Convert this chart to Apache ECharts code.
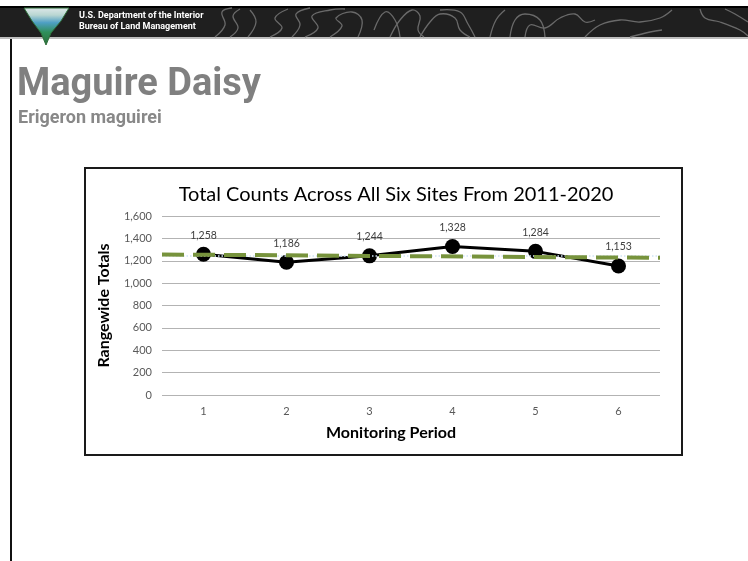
<!DOCTYPE html>
<html><head><meta charset="utf-8">
<script src="https://cdn.jsdelivr.net/npm/echarts@6/dist/echarts.min.js"></script>
<style>html,body{margin:0;padding:0;background:#fff}#c{width:748px;height:561px}</style>
</head><body><div id="c"></div>
<script>
// ---- data ----
const periods = ['1', '2', '3', '4', '5', '6'];
const totals = [1258, 1186, 1244, 1328, 1284, 1153];
// trend line (at left and right edges of plot)
const trendX = [0.5, 6.5];
const trendY = [1256, 1226];
// average line (dotted light blue)
const meanY = [1242, 1242];
const yTicks = [0, 200, 400, 600, 800, 1000, 1200, 1400, 1600];

const chart = echarts.init(document.getElementById('c'), null, {renderer: 'canvas'});

function topo(points) {
  return {type: 'polyline', shape: {points: points, smooth: 0.4},
    style: {stroke: '#6a6a6a', lineWidth: 1.3, fill: null}, z: 1};
}

const graphics = [
  {type: 'rect', shape: {x: 0, y: 6, width: 748, height: 3}, style: {fill: '#000'}, z: 0},
  {type: 'rect', shape: {x: 0, y: 8, width: 748, height: 29}, style: {fill: '#1f1f1f'}, z: 0},
  {type: 'rect', shape: {x: 0, y: 37, width: 748, height: 2}, style: {fill: '#bdbdbd'}, z: 0},
  topo([[215,37],[225,25],[222,12],[232,8]]),
  topo([[248,37],[256,22],[250,10]]),
  topo([[270,37],[282,28],[275,18],[288,9]]),
  topo([[292,37],[300,25],[296,14],[310,8]]),
  topo([[305,37],[318,28],[312,16],[330,10],[345,9]]),
  topo([[330,37],[342,26],[336,18],[352,12],[362,20],[358,37]]),
  topo([[374,30],[385,12],[395,20],[400,37]]),
  topo([[390,37],[400,20],[412,10],[420,16],[418,30],[424,37]]),
  topo([[420,37],[430,22],[440,14],[455,18],[460,30],[470,37]]),
  topo([[440,10],[460,12],[468,24],[475,37]]),
  topo([[490,37],[496,20],[505,10]]),
  topo([[510,37],[515,20],[525,14],[540,20],[545,37]]),
  topo([[525,37],[530,25],[545,28],[560,18],[575,14],[585,22],[595,20]]),
  topo([[585,37],[600,25],[620,20],[640,22],[660,18],[672,10]]),
  topo([[630,37],[650,32],[662,30]]),
  topo([[700,9],[705,18],[720,22],[740,30],[748,36]]),
  topo([[725,9],[735,14],[748,22]]),
  topo([[230,37],[238,28],[233,16],[240,9]]),
  // logo
  {type: 'polygon', shape: {points: [[24,8],[69,8],[61,21],[51,33],[46,45],[41,33],[32,21]]},
    style: {fill: new echarts.graphic.LinearGradient(0,0,0,1,[
      {offset:0,color:'#dfe8ea'},{offset:0.2,color:'#b9d6d2'},{offset:0.4,color:'#4e9fc4'},
      {offset:0.65,color:'#2f8f5a'},{offset:1,color:'#2a6e3a'}]), stroke:'#2f6f3a', lineWidth:1}, z: 3},
  {type: 'text', left: 79, top: 11, style: {text: 'U.S. Department of the Interior', fill: '#fff',
    font: 'bold 9px Roboto'}, z: 3},
  {type: 'text', left: 79, top: 22, style: {text: 'Bureau of Land Management', fill: '#fff',
    font: 'bold 9px Roboto'}, z: 3},
  // left vertical rule
  {type: 'rect', shape: {x: 10, y: 39, width: 2, height: 522}, style: {fill: '#111'}, z: 0},
  // slide titles
  {type: 'text', left: 17, top: 66, style: {text: 'Maguire Daisy', fill: '#808080',
    font: 'bold 38px Roboto'}, z: 3},
  {type: 'text', left: 18, top: 109, style: {text: 'Erigeron maguirei', fill: '#888888',
    font: 'bold 18px Roboto'}, z: 3},
  // chart frame
  {type: 'rect', shape: {x: 85, y: 168, width: 597, height: 287},
    style: {fill: '#fff', stroke: '#1a1a1a', lineWidth: 2}, z: -1},
  {type: 'text', x: 396, y: 185, style: {text: 'Total Counts Across All Six Sites From 2011-2020',
    fill: '#000', font: '20px Lato', align: 'center'}, z: 3},
  {type: 'text', x: 391, y: 425, style: {text: 'Monitoring Period',
    fill: '#000', font: 'bold 16px Lato', align: 'center'}, z: 3}
];

chart.setOption({
  animation: false,
  graphic: graphics,
  grid: {left: 162, right: 88, top: 216, bottom: 166, containLabel: false},
  xAxis: [{
    type: 'category', data: periods, boundaryGap: true,
    axisLine: {show: false}, axisTick: {show: false},
    axisLabel: {color: '#595959', fontSize: 11, fontFamily: 'Lato', margin: 11}
  }, {
    type: 'value', min: 0.5, max: 6.5, show: false
  }],
  yAxis: {
    type: 'value', min: yTicks[0], max: yTicks[yTicks.length-1], interval: 200,
    axisLine: {show: false}, axisTick: {show: false},
    axisLabel: {color: '#595959', fontSize: 11, fontFamily: 'Lato', margin: 10,
      formatter: v => v.toLocaleString('en-US')},
    splitLine: {lineStyle: {color: '#b3b3b3', width: 1}},
    name: 'Rangewide Totals', nameLocation: 'middle', nameGap: 50, nameRotate: 90,
    nameTextStyle: {color: '#000', fontSize: 16, fontWeight: 'bold', fontFamily: 'Lato'}
  },
  series: [{
    type: 'line', xAxisIndex: 0, data: totals, z: 3,
    lineStyle: {color: '#000', width: 3}, itemStyle: {color: '#000'},
    symbol: 'circle', symbolSize: 15,
    label: {show: true, position: 'top', distance: 6, color: '#404040', fontSize: 10.5, fontFamily: 'Lato',
      formatter: p => p.value.toLocaleString('en-US')}
  }, {
    type: 'line', xAxisIndex: 1, data: trendX.map((x,i)=>[x, meanY[i]]), z: 4,
    symbol: 'none', lineStyle: {color: '#cfe3f5', width: 1.5, type: [1.5, 2]}
  }, {
    type: 'line', xAxisIndex: 1, data: trendX.map((x,i)=>[x, trendY[i]]), z: 5,
    symbol: 'none', lineStyle: {color: '#77933c', width: 4, type: [22, 9]}
  }]
});
</script></body></html>
